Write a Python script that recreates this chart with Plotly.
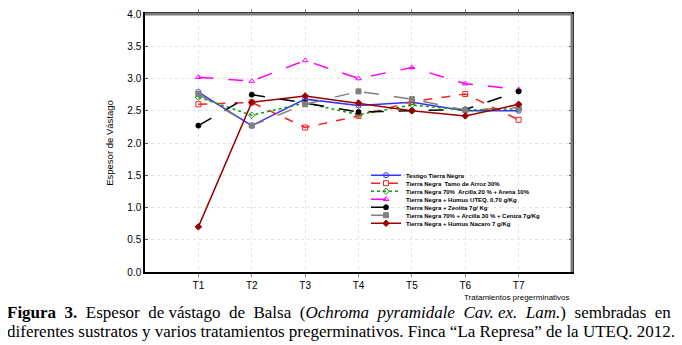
import plotly.graph_objects as go

categories = ["T1", "T2", "T3", "T4", "T5", "T6", "T7"]
series_names = [
    "Testigo Tierra Negra",
    "Tierra Negra  Tamo de Arroz 30%",
    "Tierra Negra 70%  Arcilla 20 % + Arena 10%",
    "Tierra Negra + Humus UTEQ. 0,70 g/Kg",
    "Tierra Negra + Zeolita 7g/ Kg",
    "Tierra Negra 70% + Arcilla 30 % + Ceniza 7g/Kg",
    "Tierra Negra + Humus Nacaro 7 g/Kg",
]
testigo = [2.79, 2.27, 2.68, 2.58, 2.63, 2.50, 2.50]
tamo = [2.60, 2.63, 2.24, 2.42, 2.64, 2.76, 2.36]
arena = [2.71, 2.43, 2.62, 2.44, 2.59, 2.51, 2.53]
humus_uteq = [3.02, 2.96, 3.28, 3.00, 3.17, 2.92, 2.83]
zeolita = [2.27, 2.75, 2.62, 2.48, 2.50, 2.52, 2.80]
ceniza = [2.76, 2.27, 2.60, 2.80, 2.68, 2.51, 2.55]
nacaro = [0.70, 2.63, 2.73, 2.62, 2.50, 2.42, 2.60]
y_ticks = [0.0, 0.5, 1.0, 1.5, 2.0, 2.5, 3.0, 3.5, 4.0]

values = [testigo, tamo, arena, humus_uteq, zeolita, ceniza, nacaro]
colors = ["#3333ff", "#ff2020", "#119911", "#ff00ff", "#000000", "#808080", "#990000"]
dashes = ["solid", "dash", "dot", "longdash", "longdash", "longdash", "solid"]
symbols = ["circle-open", "square-open", "diamond-open", "triangle-up-open",
           "circle", "square", "diamond"]

# The page body has an 8px default margin, so the figure is drawn 8px smaller
# and every page-pixel position below is converted into figure coordinates.
OFF = 8
W, H = 682 - OFF, 345 - OFF
L, R, T, B = 145 - OFF, 110, 9 - OFF, 73
pw, ph = W - L - R, H - T - B

def py(ypage):
    return (H - B - (ypage - OFF)) / ph

def px(xpage):
    return ((xpage - OFF) - L) / pw

xpos = list(range(1, len(categories) + 1))
fig = go.Figure()
layout_legends = {}
for i, (name, vals, c, d, s) in enumerate(zip(series_names, values, colors, dashes, symbols)):
    lg = "legend" if i == 0 else f"legend{i + 1}"
    fig.add_trace(go.Scatter(
        x=xpos, y=vals, name=name, mode="lines+markers", legend=lg,
        line=dict(color=c, width=1.5, dash=d),
        marker=dict(symbol=s, size=5, color=c, line=dict(color=c, width=1)),
    ))
    layout_legends[lg] = dict(
        x=px(366), y=py(173.3 + i * 8.17), xanchor="left", yanchor="middle",
        font=dict(size=6, family="Arial, Liberation Sans", weight="bold"),
        bgcolor="rgba(0,0,0,0)", itemwidth=30, borderwidth=0,
    )

fig.update_layout(
    width=W, height=H,
    margin=dict(l=L, r=R, t=T, b=B),
    paper_bgcolor="white", plot_bgcolor="white",
    font=dict(family="Arial, Liberation Sans, sans-serif", color="black"),
    showlegend=True,
    xaxis=dict(range=[0, 8], tickvals=xpos, ticktext=categories,
               showline=True, linecolor="black", linewidth=1.5, mirror="ticks",
               ticks="outside", ticklen=3, tickcolor="#888",
               showgrid=True, gridcolor="#e4e4e4", griddash="dot", zeroline=False,
               tickfont=dict(size=10)),
    yaxis=dict(range=[0, 4], tickvals=y_ticks, ticktext=[f"{v:.1f}" for v in y_ticks],
               showline=True, linecolor="black", linewidth=1.5, mirror="ticks",
               ticks="inside", ticklen=3, tickcolor="#555",
               showgrid=True, gridcolor="#e4e4e4", griddash="dot", zeroline=False,
               tickfont=dict(size=10),
               title=dict(text="Espesor de Vástago", font=dict(size=9.5), standoff=12)),
    **layout_legends,
)

fig.add_shape(type="line", xref="paper", yref="paper", x0=0, x1=1, y0=1, y1=1,
              line=dict(color="#7a7a7a", width=3))
fig.add_shape(type="line", xref="paper", yref="paper", x0=1, x1=1, y0=0, y1=1,
              line=dict(color="#7a7a7a", width=3))

fig.add_annotation(text="Tratamientos pregerminativos", xref="paper", yref="paper",
                   x=1.0, y=py(298), xanchor="right", yanchor="middle", showarrow=False,
                   font=dict(size=8, family="Arial, Liberation Sans"))

serif = "Times New Roman, Liberation Serif, serif"
n1 = "\u00a0 "
line1 = ("<b>Figura" + n1 + "3.</b>" + n1 + "Espesor" + n1 + "de vástago" + n1 + "de" + n1
         + "Balsa" + n1 + "(<i>Ochroma" + n1 + "pyramidale" + n1 + "Cav. ex." + n1
         + "Lam.</i>)" + n1 + "sembradas" + n1 + "en")
line2 = "diferentes sustratos y varios tratamientos pregerminativos. Finca “La Represa” de la UTEQ. 2012."
fig.add_annotation(text=line1, xref="paper", yref="paper", x=px(5), y=py(313),
                   xanchor="left", yanchor="middle", showarrow=False,
                   font=dict(size=17, family=serif))
fig.add_annotation(text=line2, xref="paper", yref="paper", x=px(5), y=py(333),
                   xanchor="left", yanchor="middle", showarrow=False,
                   font=dict(size=17, family=serif))

fig.write_html("out.html")
